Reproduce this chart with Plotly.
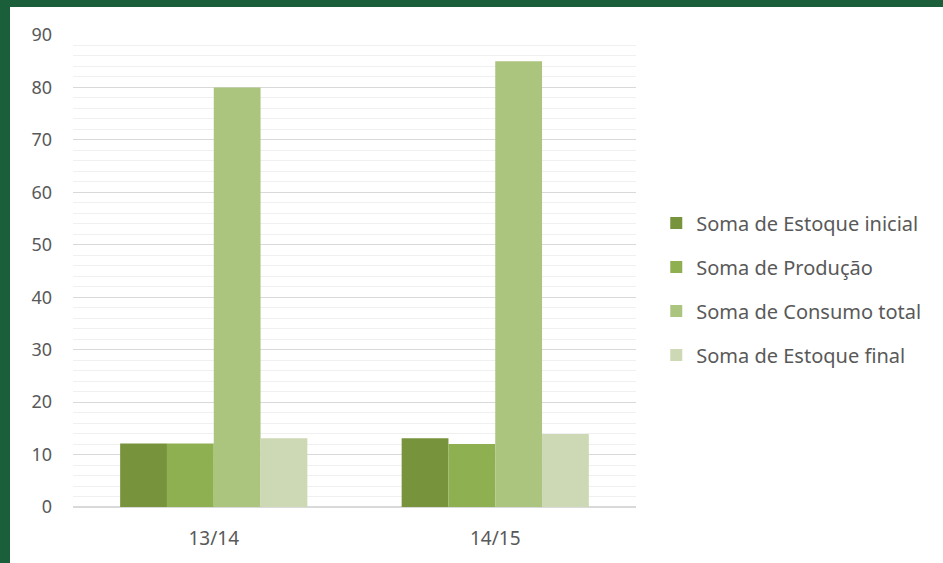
import plotly.graph_objects as go

# safras e valores (mil t)
safras = ['13/14', '14/15']
estoque_inicial = [12.1, 13.1]
producao = [12.1, 12.0]
consumo_total = [80.0, 85.0]
estoque_final = [13.1, 13.9]

series = [
    ('Soma de Estoque inicial', estoque_inicial, '#77933c'),
    ('Soma de Produção', producao, '#8fb050'),
    ('Soma de Consumo total', consumo_total, '#abc57f'),
    ('Soma de Estoque final', estoque_final, '#cdd9b5'),
]

fig = go.Figure()
for i, (nome, valores, cor) in enumerate(series):
    fig.add_trace(go.Bar(
        x=safras,
        y=valores,
        name=nome,
        marker_color=cor,
        marker_line_width=0,
        legendgroup=str(i),
    ))

# moldura verde (topo e esquerda)
fig.add_shape(type='rect', xref='paper', yref='paper',
              x0=-1, x1=(10 - 73) / 563, y0=-1, y1=3,
              fillcolor='#1b5e3a', line_width=0)
fig.add_shape(type='rect', xref='paper', yref='paper',
              x0=-1, x1=3, y0=1 + (35 - 7) / 474, y1=3,
              fillcolor='#1b5e3a', line_width=0)

fig.update_layout(
    width=943,
    height=563,
    margin=dict(l=73, r=307, t=35, b=54),
    paper_bgcolor='white',
    plot_bgcolor='white',
    barmode='group',
    bargap=0.335,
    bargroupgap=0,
    font=dict(family='Noto Sans', color='#595959'),
    legend=dict(
        x=1.036, y=0.462, xanchor='left', yanchor='middle',
        font=dict(size=20, color='#595959'),
        traceorder='grouped',
        tracegroupgap=15,
    ),
    xaxis=dict(
        showgrid=False,
        showline=False,
        ticks='',
        ticklabelstandoff=18,
        tickfont=dict(size=19, color='#595959'),
    ),
    yaxis=dict(
        range=[0, 90],
        dtick=10,
        showgrid=True,
        gridcolor='#d9d9d9',
        gridwidth=1,
        zeroline=True,
        zerolinecolor='#d9d9d9',
        ticks='',
        ticklabelstandoff=20,
        tickfont=dict(size=18, color='#595959'),
        minor=dict(dtick=2, showgrid=True, gridcolor='#f0f0f0', gridwidth=1),
    ),
)

fig.write_html('out.html', config={'displayModeBar': False},
               post_script="document.body.style.margin='0';")
